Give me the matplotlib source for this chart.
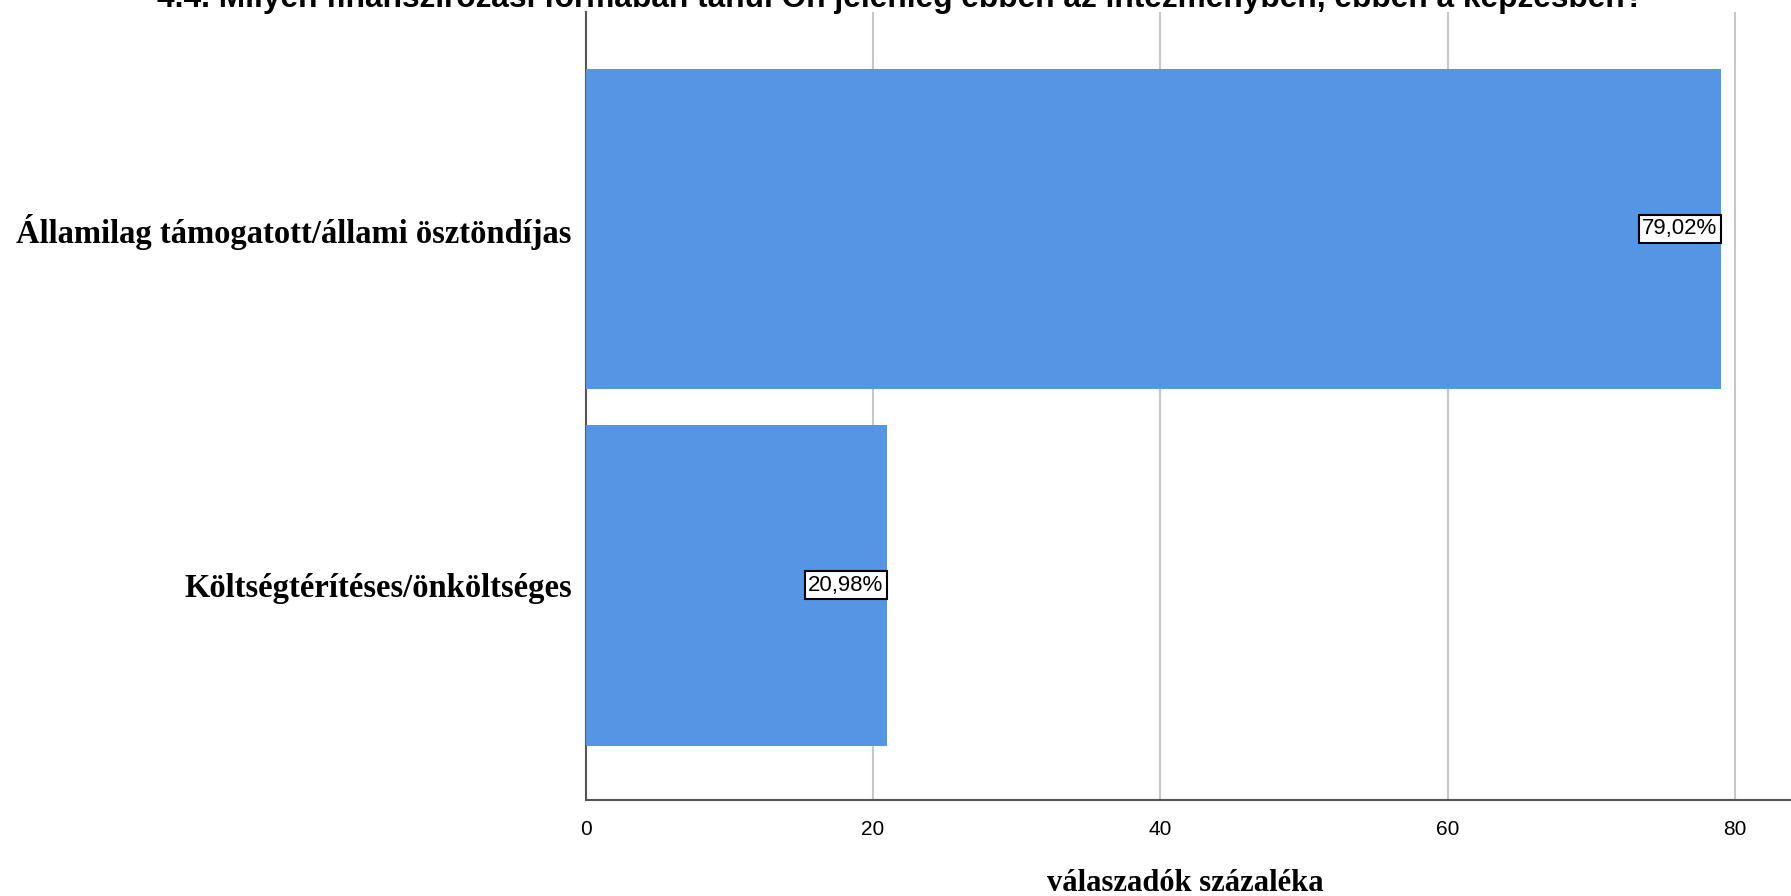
import matplotlib.pyplot as plt

# adatok
categories = ["Államilag támogatott/állami ösztöndíjas", "Költségtérítéses/önköltséges"]
values = [79.02, 20.98]
labels = ["79,02%", "20,98%"]
xticks = [0, 20, 40, 60, 80]

title = "4.4. Milyen finanszírozási formában tanul Ön jelenleg ebben az intézményben, ebben a képzésben?"

fig = plt.figure(figsize=(17.91, 8.96), dpi=100)
ax = fig.add_axes([0.327, 0.107, 0.673, 0.880])

pos = list(range(len(categories)))
ax.barh(pos, values, height=0.9, color="#5595e4", zorder=3)

# cimkek a savok vegen
for p, v, lab in zip(pos, values, labels):
    ax.text(v - 0.25, p, lab, ha="right", va="center", fontsize=16,
            family="Liberation Sans", zorder=4,
            bbox=dict(boxstyle="square,pad=0.15", fc="white", ec="black", lw=1.5))

ax.set_ylim(1.603, -0.61)
ax.set_xlim(0, 83.9)
ax.set_yticks(pos)
ax.set_yticklabels(categories, fontsize=23.5, family="Liberation Serif", fontweight="bold")
ax.set_xticks(xticks)
ax.set_xticklabels([str(t) for t in xticks], fontsize=15,
                   family=["Liberation Sans Narrow", "Liberation Sans"])
ax.tick_params(length=0, pad=14)
ax.tick_params(axis="y", pad=10)

ax.grid(axis="x", color="#c8c8c8", lw=1.5, zorder=0)
for s in ["top", "right"]:
    ax.spines[s].set_visible(False)
for s in ["left", "bottom"]:
    ax.spines[s].set_color("#555555")
    ax.spines[s].set_linewidth(1.5)

fig.text(0.6617, 5 / 896, "válaszadók százaléka", ha="center", va="baseline",
         fontsize=22, family="Liberation Serif", fontweight="bold")

fig.text(0.503, 0.992, title, ha="center", va="baseline", fontsize=22.8,
         family="Liberation Sans", fontweight="bold")

fig.savefig("out.png", dpi=100)
